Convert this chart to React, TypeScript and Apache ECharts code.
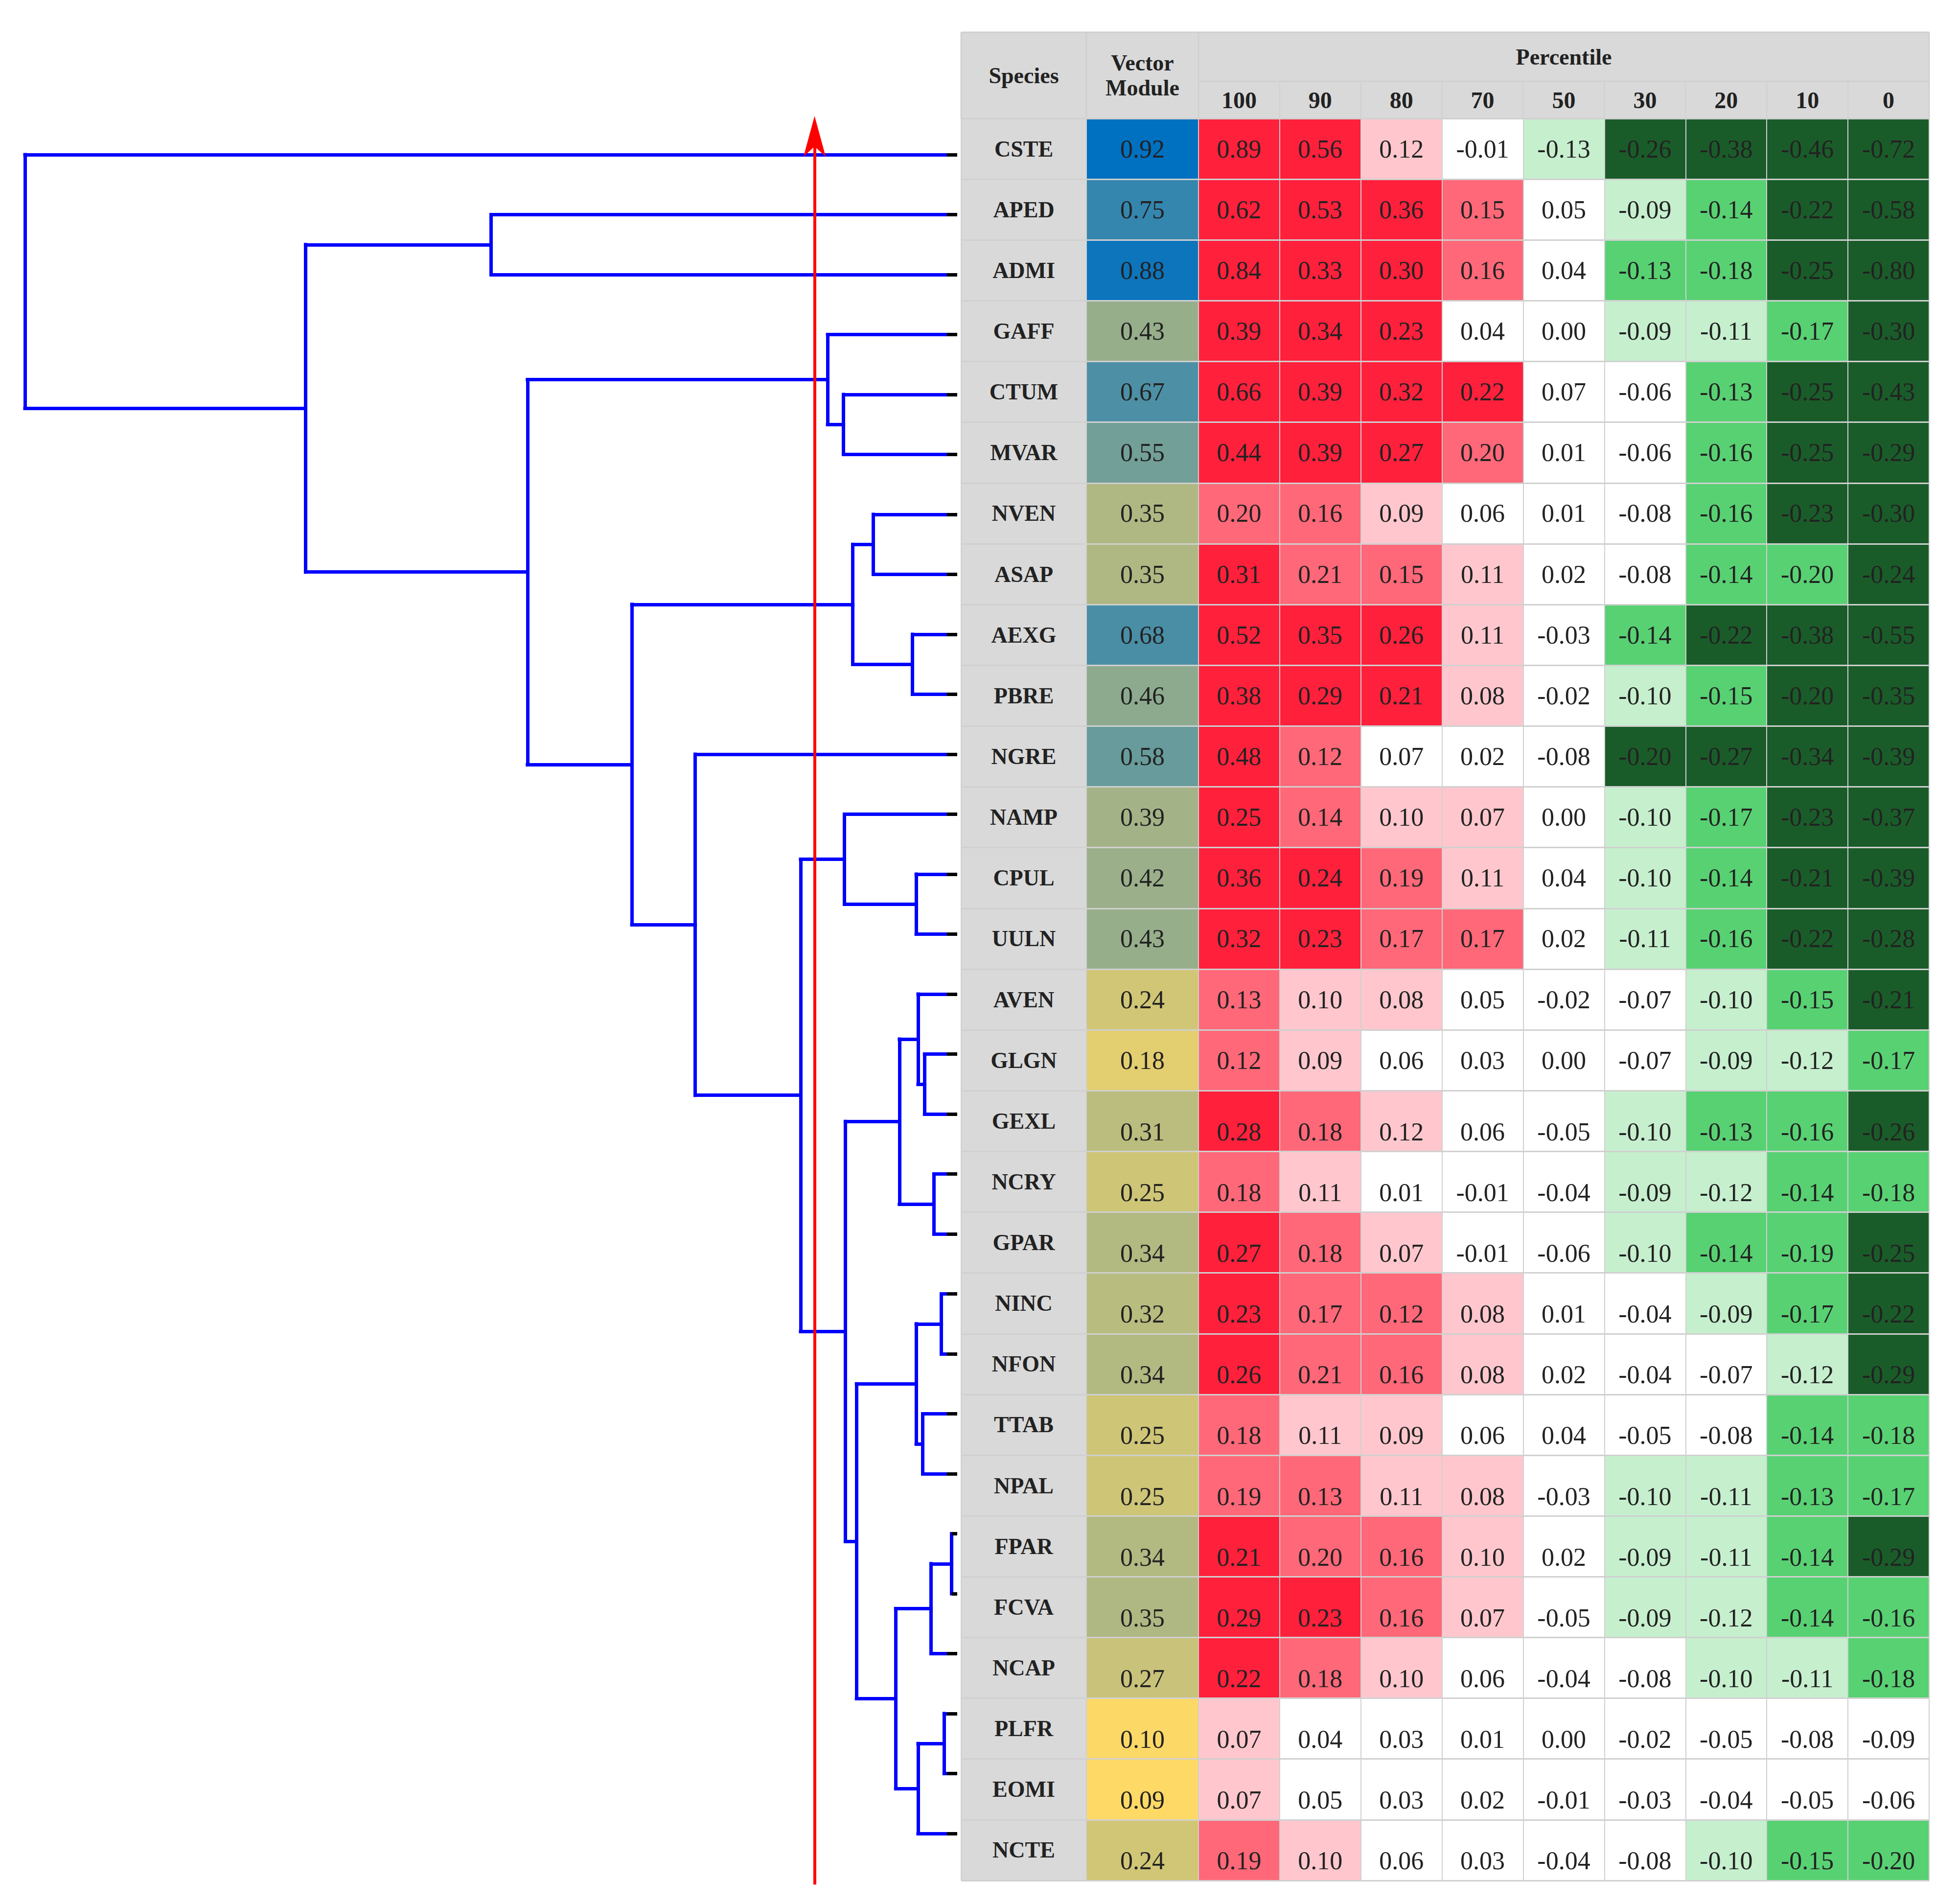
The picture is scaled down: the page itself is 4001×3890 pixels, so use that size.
import React, { useEffect, useRef } from "react";
import * as echarts from "echarts";

// ---------------- data ----------------
const species = [
  "CSTE", "APED", "ADMI", "GAFF", "CTUM", "MVAR", "NVEN", "ASAP", "AEXG", "PBRE",
  "NGRE", "NAMP", "CPUL", "UULN", "AVEN", "GLGN", "GEXL", "NCRY", "GPAR", "NINC",
  "NFON", "TTAB", "NPAL", "FPAR", "FCVA", "NCAP", "PLFR", "EOMI", "NCTE",
];

const percentiles = ["100", "90", "80", "70", "50", "30", "20", "10", "0"];

const vectorModule = [
  0.92, 0.75, 0.88, 0.43, 0.67, 0.55, 0.35, 0.35, 0.68, 0.46,
  0.58, 0.39, 0.42, 0.43, 0.24, 0.18, 0.31, 0.25, 0.34, 0.32,
  0.34, 0.25, 0.25, 0.34, 0.35, 0.27, 0.10, 0.09, 0.24,
];

const percentileValues = [
  [0.89, 0.56, 0.12, -0.01, -0.13, -0.26, -0.38, -0.46, -0.72],
  [0.62, 0.53, 0.36, 0.15, 0.05, -0.09, -0.14, -0.22, -0.58],
  [0.84, 0.33, 0.30, 0.16, 0.04, -0.13, -0.18, -0.25, -0.80],
  [0.39, 0.34, 0.23, 0.04, 0.00, -0.09, -0.11, -0.17, -0.30],
  [0.66, 0.39, 0.32, 0.22, 0.07, -0.06, -0.13, -0.25, -0.43],
  [0.44, 0.39, 0.27, 0.20, 0.01, -0.06, -0.16, -0.25, -0.29],
  [0.20, 0.16, 0.09, 0.06, 0.01, -0.08, -0.16, -0.23, -0.30],
  [0.31, 0.21, 0.15, 0.11, 0.02, -0.08, -0.14, -0.20, -0.24],
  [0.52, 0.35, 0.26, 0.11, -0.03, -0.14, -0.22, -0.38, -0.55],
  [0.38, 0.29, 0.21, 0.08, -0.02, -0.10, -0.15, -0.20, -0.35],
  [0.48, 0.12, 0.07, 0.02, -0.08, -0.20, -0.27, -0.34, -0.39],
  [0.25, 0.14, 0.10, 0.07, 0.00, -0.10, -0.17, -0.23, -0.37],
  [0.36, 0.24, 0.19, 0.11, 0.04, -0.10, -0.14, -0.21, -0.39],
  [0.32, 0.23, 0.17, 0.17, 0.02, -0.11, -0.16, -0.22, -0.28],
  [0.13, 0.10, 0.08, 0.05, -0.02, -0.07, -0.10, -0.15, -0.21],
  [0.12, 0.09, 0.06, 0.03, 0.00, -0.07, -0.09, -0.12, -0.17],
  [0.28, 0.18, 0.12, 0.06, -0.05, -0.10, -0.13, -0.16, -0.26],
  [0.18, 0.11, 0.01, -0.01, -0.04, -0.09, -0.12, -0.14, -0.18],
  [0.27, 0.18, 0.07, -0.01, -0.06, -0.10, -0.14, -0.19, -0.25],
  [0.23, 0.17, 0.12, 0.08, 0.01, -0.04, -0.09, -0.17, -0.22],
  [0.26, 0.21, 0.16, 0.08, 0.02, -0.04, -0.07, -0.12, -0.29],
  [0.18, 0.11, 0.09, 0.06, 0.04, -0.05, -0.08, -0.14, -0.18],
  [0.19, 0.13, 0.11, 0.08, -0.03, -0.10, -0.11, -0.13, -0.17],
  [0.21, 0.20, 0.16, 0.10, 0.02, -0.09, -0.11, -0.14, -0.29],
  [0.29, 0.23, 0.16, 0.07, -0.05, -0.09, -0.12, -0.14, -0.16],
  [0.22, 0.18, 0.10, 0.06, -0.04, -0.08, -0.10, -0.11, -0.18],
  [0.07, 0.04, 0.03, 0.01, 0.00, -0.02, -0.05, -0.08, -0.09],
  [0.07, 0.05, 0.03, 0.02, -0.01, -0.03, -0.04, -0.05, -0.06],
  [0.19, 0.10, 0.06, 0.03, -0.04, -0.08, -0.10, -0.15, -0.20],
];

// significance level of each percentile cell (3 strong + ... -3 strong -)
const percentileLevels = [
  [3, 3, 1, 0, -1, -3, -3, -3, -3],
  [3, 3, 3, 2, 0, -1, -2, -3, -3],
  [3, 3, 3, 2, 0, -2, -2, -3, -3],
  [3, 3, 3, 0, 0, -1, -1, -2, -3],
  [3, 3, 3, 3, 0, 0, -2, -3, -3],
  [3, 3, 3, 2, 0, 0, -2, -3, -3],
  [2, 2, 1, 0, 0, 0, -2, -3, -3],
  [3, 2, 2, 1, 0, 0, -2, -2, -3],
  [3, 3, 3, 1, 0, -2, -3, -3, -3],
  [3, 3, 3, 1, 0, -1, -2, -3, -3],
  [3, 2, 0, 0, 0, -3, -3, -3, -3],
  [3, 2, 1, 1, 0, -1, -2, -3, -3],
  [3, 3, 2, 1, 0, -1, -2, -3, -3],
  [3, 3, 2, 2, 0, -1, -2, -3, -3],
  [2, 1, 1, 0, 0, 0, -1, -2, -3],
  [2, 1, 0, 0, 0, 0, -1, -1, -2],
  [3, 2, 1, 0, 0, -1, -2, -2, -3],
  [2, 1, 0, 0, 0, -1, -1, -2, -2],
  [3, 2, 1, 0, 0, -1, -2, -2, -3],
  [3, 2, 2, 1, 0, 0, -1, -2, -3],
  [3, 2, 2, 1, 0, 0, 0, -1, -3],
  [2, 1, 1, 0, 0, 0, 0, -2, -2],
  [2, 2, 1, 1, 0, -1, -1, -2, -2],
  [3, 2, 2, 1, 0, -1, -1, -2, -3],
  [3, 3, 2, 1, 0, -1, -1, -2, -2],
  [3, 2, 1, 0, 0, 0, -1, -1, -2],
  [1, 0, 0, 0, 0, 0, 0, 0, 0],
  [1, 0, 0, 0, 0, 0, 0, 0, 0],
  [2, 1, 0, 0, 0, 0, -1, -2, -2],
];

// dendrogram: [mergeHeight, left, right]
const dendrogram: any = [100.0, "CSTE",
  [69.9,
    [50.0, "APED", "ADMI"],
    [46.1,
      [13.9, "GAFF", [12.2, "CTUM", "MVAR"]],
      [34.9,
        [11.2, [9.0, "NVEN", "ASAP"], [4.8, "AEXG", "PBRE"]],
        [28.1, "NGRE",
          [16.8,
            [12.1, "NAMP", [4.4, "CPUL", "UULN"]],
            [12.0,
              [6.2, [4.2, "AVEN", [3.5, "GLGN", "GEXL"]], [2.5, "NCRY", "GPAR"]],
              [10.8,
                [4.4, [1.7, "NINC", "NFON"], [3.7, "TTAB", "NPAL"]],
                [6.6,
                  [2.8, [0.6, "FPAR", "FCVA"], "NCAP"],
                  [4.2, [1.4, "PLFR", "EOMI"], "NCTE"],
                ],
              ],
            ],
          ],
        ],
      ],
    ],
  ],
];

const cutHeight = 15.3;

// ---------------- styling / layout ----------------
const FONT = "Liberation Serif";
const TEXT = "#222222";
const GRID_LINE = "#d0d0d0";
const HEADER_FILL = "#d9d9d9";
const LEAF_STUB = 1.1;

const TABLE_LEFT = 1964;
const COL1 = 2220;
const COL2 = 2449;
const TABLE_RIGHT = 3942;
const HEAD_TOP = 66;
const HEAD_MID = 166;
const BODY_TOP = 242;
const BODY_BOTTOM = 3842;
const SHIFT_FROM_ROW = 16;

// cut line extent in leaf-index units of the dendrogram axis
const CUT_BOTTOM = 28.85;
const CUT_TOP = -0.4;
const ARROW_TIP = -0.645;

const levelColors = [
  { value: 3, color: "#ff203c" },
  { value: 2, color: "#ff6878" },
  { value: 1, color: "#ffc7cd" },
  { value: 0, color: "#ffffff" },
  { value: -1, color: "#c6efce" },
  { value: -2, color: "#58d173" },
  { value: -3, color: "#1a5c29" },
];

function buildDendrogram() {
  const idx: Record<string, number> = {};
  species.forEach((s, i) => (idx[s] = i));
  const blue: any[] = [];
  const black: any[] = [];
  function walk(node: any): { y: number; h: number; leaf: boolean } {
    if (typeof node === "string") return { y: idx[node], h: 0, leaf: true };
    const [h, a, b] = node;
    const ca = walk(a);
    const cb = walk(b);
    for (const c of [ca, cb]) {
      if (c.leaf) {
        black.push({ coords: [[0, c.y], [Math.min(LEAF_STUB, h), c.y]] });
        if (h > LEAF_STUB) blue.push({ coords: [[LEAF_STUB, c.y], [h, c.y]] });
      } else {
        blue.push({ coords: [[c.h, c.y], [h, c.y]] });
      }
    }
    blue.push({ coords: [[h, ca.y], [h, cb.y]] });
    return { y: (ca.y + cb.y) / 2, h, leaf: false };
  }
  walk(dendrogram);
  return { blue, black };
}

function buildOption() {
  const { blue, black } = buildDendrogram();
  const colW = (TABLE_RIGHT - COL2) / percentiles.length;
  const labelShift = (r: number) => (r >= SHIFT_FROM_ROW ? 22 : 0);

  const speciesData = species.map((_, i) => [0, i, 0]);
  const vmData = vectorModule.map((v, i) => ({
    value: [0, i, v],
    label: { offset: [0, labelShift(i)] },
  }));
  const pctData: any[] = [];
  percentileValues.forEach((row, r) =>
    row.forEach((v, c) =>
      pctData.push({
        value: [c, r, v, percentileLevels[r][c]],
        label: { offset: [0, labelShift(r)] },
      })
    )
  );

  const catX = (gridIndex: number, data: string[], extra: any = {}) => ({
    type: "category",
    gridIndex,
    data,
    position: "top",
    z: 10,
    axisLine: { show: false },
    axisTick: { show: false },
    axisLabel: { show: false },
    splitLine: { show: true, interval: 0, lineStyle: { color: GRID_LINE, width: 2 } },
    ...extra,
  });
  const catY = (gridIndex: number) => ({
    type: "category",
    gridIndex,
    data: species,
    inverse: true,
    z: 10,
    axisLine: { show: false },
    axisTick: { show: false },
    axisLabel: { show: false },
    splitLine: { show: true, interval: 0, lineStyle: { color: GRID_LINE, width: 3 } },
  });
  const headName = {
    fontFamily: FONT,
    fontWeight: "bold",
    fontSize: 46,
    color: TEXT,
    verticalAlign: "middle",
  };

  const headerLines: any[] = [];
  const hl = (x1: number, y1: number, x2: number, y2: number, w = 3) =>
    headerLines.push({
      type: "line",
      z: 1,
      shape: { x1, y1, x2, y2 },
      style: { stroke: GRID_LINE, lineWidth: w },
    });
  hl(TABLE_LEFT, HEAD_TOP, TABLE_RIGHT, HEAD_TOP);
  [TABLE_LEFT, COL1, COL2, TABLE_RIGHT].forEach((x) => hl(x, HEAD_TOP, x, BODY_TOP));
  hl(COL2, HEAD_MID, TABLE_RIGHT, HEAD_MID);
  for (let k = 1; k < percentiles.length; k++) {
    const x = COL2 + k * colW;
    hl(x, HEAD_MID, x, BODY_TOP, 2);
  }

  return {
    animation: false,
    backgroundColor: "#ffffff",
    graphic: [
      {
        type: "rect",
        z: 0,
        shape: { x: TABLE_LEFT, y: HEAD_TOP, width: TABLE_RIGHT - TABLE_LEFT, height: BODY_TOP - HEAD_TOP },
        style: { fill: HEADER_FILL },
      },
      ...headerLines,
    ],
    grid: [
      { left: 51, top: 193.5, width: 1905, height: 3675 },
      { left: TABLE_LEFT, top: BODY_TOP, width: COL1 - TABLE_LEFT, height: BODY_BOTTOM - BODY_TOP },
      { left: COL1, top: BODY_TOP, width: COL2 - COL1, height: BODY_BOTTOM - BODY_TOP },
      { left: COL2, top: BODY_TOP, width: TABLE_RIGHT - COL2, height: BODY_BOTTOM - BODY_TOP },
    ],
    xAxis: [
      { type: "value", gridIndex: 0, min: 0, max: 100, inverse: true, show: false },
      catX(1, [""], {
        name: "Species",
        nameLocation: "middle",
        nameGap: 88,
        nameTextStyle: headName,
      }),
      catX(2, [""], {
        name: "Vector\nModule",
        nameLocation: "middle",
        nameGap: 88,
        nameTextStyle: { ...headName, lineHeight: 51 },
      }),
      catX(3, percentiles, {
        name: "Percentile",
        nameLocation: "middle",
        nameGap: 126,
        nameTextStyle: headName,
        axisLabel: {
          show: true,
          interval: 0,
          margin: 38,
          verticalAlign: "middle",
          fontFamily: FONT,
          fontWeight: "bold",
          fontSize: 48,
          color: TEXT,
        },
      }),
    ],
    yAxis: [
      { type: "value", gridIndex: 0, min: -1, max: 29, inverse: true, show: false },
      catY(1),
      catY(2),
      catY(3),
    ],
    visualMap: [
      {
        type: "continuous",
        show: false,
        seriesIndex: 4,
        dimension: 2,
        min: 0,
        max: 1,
        inRange: { color: [HEADER_FILL, HEADER_FILL] },
      },
      {
        type: "continuous",
        show: false,
        seriesIndex: 5,
        dimension: 2,
        min: 0.09,
        max: 0.92,
        inRange: { color: ["#ffd966", "#0070c0"] },
      },
      {
        type: "piecewise",
        show: false,
        seriesIndex: 6,
        dimension: 3,
        pieces: levelColors,
      },
    ],
    series: [
      {
        type: "lines",
        name: "links",
        coordinateSystem: "cartesian2d",
        xAxisIndex: 0,
        yAxisIndex: 0,
        data: blue,
        lineStyle: { color: "#0000ff", width: 7, opacity: 1, cap: "square" },
        silent: true,
      },
      {
        type: "lines",
        name: "leaves",
        coordinateSystem: "cartesian2d",
        xAxisIndex: 0,
        yAxisIndex: 0,
        data: black,
        lineStyle: { color: "#000000", width: 7, opacity: 1 },
        silent: true,
      },
      {
        type: "lines",
        name: "cut",
        coordinateSystem: "cartesian2d",
        xAxisIndex: 0,
        yAxisIndex: 0,
        data: [{ coords: [[cutHeight, CUT_BOTTOM], [cutHeight, CUT_TOP]] }],
        lineStyle: { color: "#ff0000", width: 6, opacity: 1 },
        silent: true,
        z: 4,
      },
      {
        type: "scatter",
        name: "cut arrow",
        xAxisIndex: 0,
        yAxisIndex: 0,
        data: [[cutHeight, ARROW_TIP]],
        symbol: "arrow",
        symbolSize: [34, 83],
        itemStyle: { color: "#ff0000", opacity: 1 },
        silent: true,
        z: 5,
      },
      {
        type: "heatmap",
        name: "species",
        xAxisIndex: 1,
        yAxisIndex: 1,
        data: speciesData,
        label: {
          show: true,
          formatter: (p: any) => species[p.value[1]],
          fontFamily: FONT,
          fontWeight: "bold",
          fontSize: 46,
          color: TEXT,
        },
        emphasis: { disabled: true },
      },
      {
        type: "heatmap",
        name: "Vector Module",
        xAxisIndex: 2,
        yAxisIndex: 2,
        data: vmData,
        label: {
          show: true,
          formatter: (p: any) => p.value[2].toFixed(2),
          fontFamily: FONT,
          fontSize: 52,
          color: TEXT,
        },
        emphasis: { disabled: true },
      },
      {
        type: "heatmap",
        name: "Percentile",
        xAxisIndex: 3,
        yAxisIndex: 3,
        data: pctData,
        label: {
          show: true,
          formatter: (p: any) => p.value[2].toFixed(2),
          fontFamily: FONT,
          fontSize: 52,
          color: TEXT,
        },
        emphasis: { disabled: true },
      },
    ],
  };
}

export default function App() {
  const ref = useRef<HTMLDivElement>(null);
  useEffect(() => {
    const chart = echarts.init(ref.current!, null, { renderer: "svg" });
    chart.setOption(buildOption() as any);
    return () => chart.dispose();
  }, []);
  return (
    <div
      ref={ref}
      style={{ position: "absolute", left: 0, top: 0, width: 4001, height: 3890, background: "#ffffff" }}
    />
  );
}
